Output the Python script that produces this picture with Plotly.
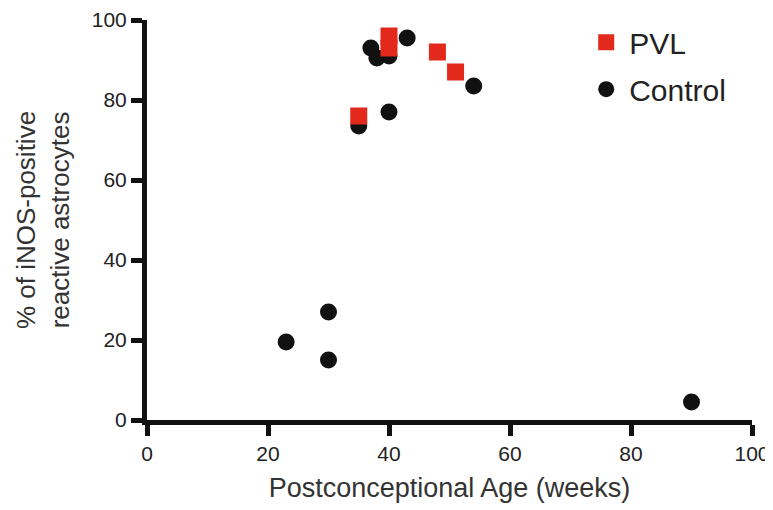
import plotly.graph_objects as go

pvl_x = [35, 40, 40, 48, 51]
pvl_y = [76, 93, 96, 92, 87]
ctrl_x = [23, 30, 30, 35, 37, 38, 40, 40, 43, 54, 90]
ctrl_y = [19.5, 27, 15, 73.5, 93, 90.5, 91, 77, 95.5, 83.5, 4.5]
x_ticks = [0, 20, 40, 60, 80, 100]
y_ticks = [0, 20, 40, 60, 80, 100]

font = "Liberation Sans, Arial, sans-serif"

fig = go.Figure()
fig.add_trace(go.Scatter(x=ctrl_x, y=ctrl_y, mode="markers", name="Control",
                         legendgroup="b", legendrank=2,
                         marker=dict(symbol="circle", size=17, color="#111111"),
                         cliponaxis=False))
fig.add_trace(go.Scatter(x=pvl_x, y=pvl_y, mode="markers", name="PVL",
                         legendgroup="a", legendrank=1,
                         marker=dict(symbol="square", size=17, color="#e3281c"),
                         cliponaxis=False))

axis_common = dict(showline=True, linewidth=5, linecolor="#111111", ticks="outside",
                   ticklen=11, tickwidth=5, tickcolor="#111111", showgrid=False,
                   zeroline=False, tickfont=dict(family=font, size=21, color="#222222"),
                   range=[0, 100], automargin=False)
fig.update_xaxes(**axis_common, tickvals=x_ticks,
                 title=dict(text="Postconceptional Age (weeks)",
                            font=dict(family=font, size=27, color="#333333"), standoff=15))
fig.update_yaxes(**axis_common, tickvals=y_ticks,
                 title=dict(text="% of iNOS-positive<br>reactive astrocytes",
                            font=dict(family=font, size=26, color="#333333"), standoff=16))

fig.update_layout(
    width=773, height=510,
    margin=dict(l=139, r=29, t=12, b=98, autoexpand=False),
    paper_bgcolor="white", plot_bgcolor="white",
    legend=dict(x=0.721, y=0.984, yref="container", xanchor="left", yanchor="top",
                itemwidth=36,
                font=dict(family=font, size=30, color="#222222"),
                traceorder="grouped", tracegroupgap=5, bgcolor="rgba(0,0,0,0)"),
)

fig.write_html("out.html")
